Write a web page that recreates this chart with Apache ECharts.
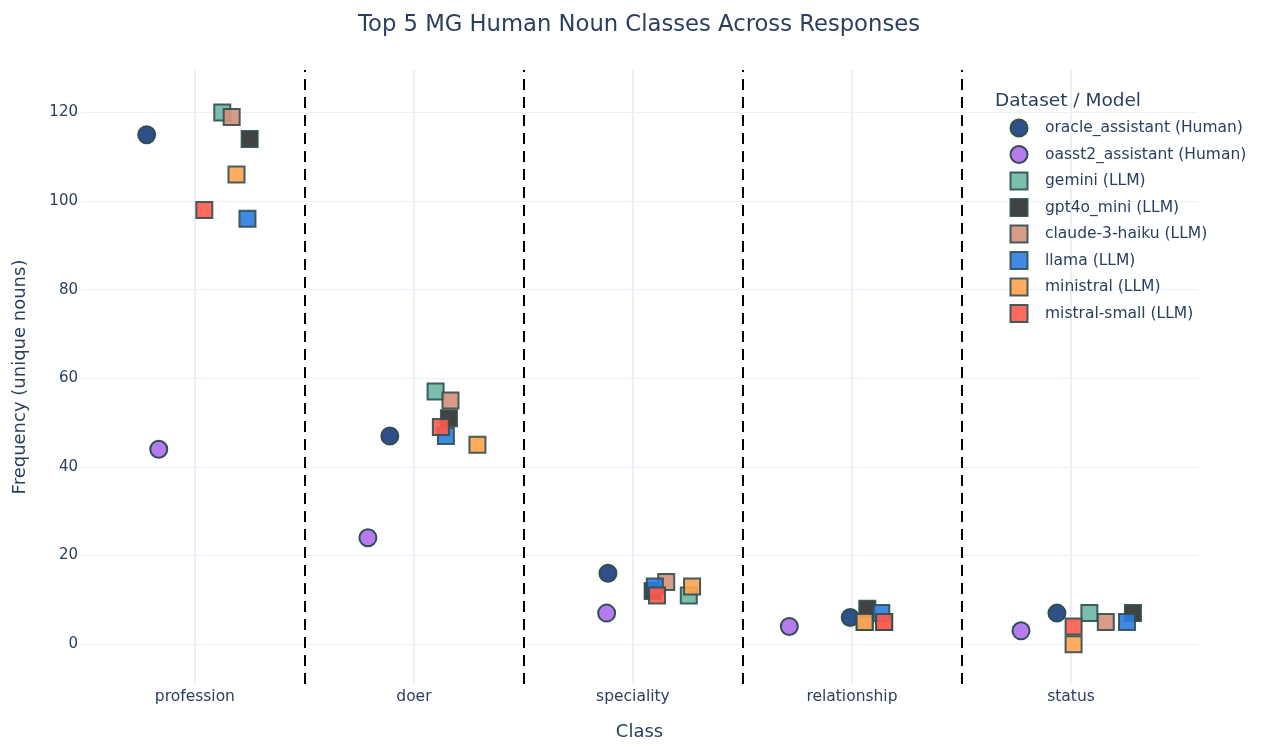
<!DOCTYPE html>
<html>
<head>
<meta charset="utf-8">
<script src="https://cdn.jsdelivr.net/npm/echarts@6/dist/echarts.min.js"></script>
<style>html,body{margin:0;padding:0;background:#fff}#c{width:1263px;height:744px}</style>
</head>
<body>
<div id="c"></div>
<script>
const categories = ['profession', 'doer', 'speciality', 'relationship', 'status'];
const yTicks = [0, 20, 40, 60, 80, 100, 120];

// values per series (in category order)
const oracleVals   = [115, 47, 16, 6, 7];
const oasst2Vals   = [44, 24, 7, 4, 3];
const geminiVals   = [120, 57, 11, 5, 7];
const gpt4oVals    = [114, 51, 12, 8, 7];
const claudeVals   = [119, 55, 14, 5, 5];
const llamaVals    = [96, 47, 13, 7, 5];
const ministralVals= [106, 45, 13, 5, 0];
const mistralVals  = [98, 49, 11, 5, 4];

// horizontal strip jitter (in category units)
const oracleJit    = [-0.22, -0.11, -0.114, -0.008, -0.064];
const oasst2Jit    = [-0.165, -0.21, -0.12, -0.286, -0.228];
const geminiJit    = [0.125, 0.099, 0.255, 0.058, 0.084];
const gpt4oJit     = [0.25, 0.16, 0.09, 0.07, 0.283];
const claudeJit    = [0.168, 0.167, 0.152, 0.147, 0.159];
const llamaJit     = [0.24, 0.146, 0.1, 0.134, 0.256];
const ministralJit = [0.19, 0.29, 0.27, 0.058, 0.012];
const mistralJit   = [0.043, 0.123, 0.11, 0.147, 0.012];

const seriesDefs = [
  {name: 'oracle_assistant (Human)', vals: oracleVals, jit: oracleJit, color: '#2f4f8a', symbol: 'circle'},
  {name: 'oasst2_assistant (Human)', vals: oasst2Vals, jit: oasst2Jit, color: '#b77bf0', symbol: 'circle'},
  {name: 'gemini (LLM)', vals: geminiVals, jit: geminiJit, color: '#6db7a4', symbol: 'rect'},
  {name: 'gpt4o_mini (LLM)', vals: gpt4oVals, jit: gpt4oJit, color: '#2e2e2e', symbol: 'rect'},
  {name: 'claude-3-haiku (LLM)', vals: claudeVals, jit: claudeJit, color: '#d4907a', symbol: 'rect'},
  {name: 'llama (LLM)', vals: llamaVals, jit: llamaJit, color: '#2b7de0', symbol: 'rect'},
  {name: 'ministral (LLM)', vals: ministralVals, jit: ministralJit, color: '#ffa24f', symbol: 'rect'},
  {name: 'mistral-small (LLM)', vals: mistralVals, jit: mistralJit, color: '#ff5a4e', symbol: 'rect'}
];

const separators = categories.slice(1).map((_, i) => i + 0.5);
const textColor = '#2a3f5f';
const gridColor = '#ebf0f8';
const FONT = 'DejaVu Sans';

const series = seriesDefs.map((s, si) => {
  const o = {
    name: s.name,
    type: 'scatter',
    symbol: s.symbol,
    symbolSize: s.symbol === 'circle' ? 17 : 16,
    data: categories.map((c, i) => [i + s.jit[i], s.vals[i]]),
    itemStyle: {
      color: s.color,
      borderColor: '#2f4f4f',
      borderWidth: 2,
      opacity: s.symbol === 'circle' ? 1 : 0.9
    },
    emphasis: {disabled: true},
    animation: false
  };
  if (si === 0) {
    o.markLine = {
      silent: true,
      symbol: ['none', 'none'],
      label: {show: false},
      animation: false,
      lineStyle: {color: '#000', width: 2, type: [11, 7]},
      data: separators.map(v => ({xAxis: v}))
    };
  }
  return o;
});

const chart = echarts.init(document.getElementById('c'), null, {renderer: 'canvas'});
chart.setOption({
  backgroundColor: '#fff',
  animation: false,
  title: [
    {
      text: 'Top 5 MG Human Noun Classes Across Responses',
      left: 353, top: 9,
      textStyle: {fontFamily: FONT, fontSize: 22.7, fontWeight: 'normal', color: textColor}
    },
    {
      text: 'Dataset / Model',
      left: 990, top: 87,
      textStyle: {fontFamily: FONT, fontSize: 18.5, fontWeight: 'normal', color: textColor}
    }
  ],
  legend: {
    orient: 'vertical',
    left: 1009.5, top: 118.5,
    padding: 0,
    itemWidth: 17, itemHeight: 17,
    itemGap: 7.5,
    textStyle: {fontFamily: FONT, fontSize: 15.5, lineHeight: 17, color: textColor, padding: [0, 0, 0, 12.5]},
    data: seriesDefs.map(s => ({name: s.name, icon: s.symbol})),
    selectedMode: false
  },
  grid: {left: 81, right: 65, top: 70, bottom: 60, containLabel: false, outerBoundsMode: 'none'},
  xAxis: {
    type: 'value',
    min: -0.52, max: 4.58,
    name: 'Class',
    nameLocation: 'middle',
    nameGap: 39,
    nameTextStyle: {fontFamily: FONT, fontSize: 18, color: textColor},
    axisLine: {show: false},
    axisTick: {show: false, customValues: categories.map((c, i) => i)},
    axisLabel: {
      customValues: categories.map((c, i) => i),
      formatter: v => categories[Math.round(v)] || '',
      fontFamily: FONT, fontSize: 15.5, color: textColor, margin: 5
    },
    splitLine: {show: true, lineStyle: {color: gridColor, width: 2}}
  },
  yAxis: {
    type: 'value',
    min: -9, max: 129.6,
    name: 'Frequency (unique nouns)',
    nameLocation: 'middle',
    nameGap: 52,
    nameTextStyle: {fontFamily: FONT, fontSize: 18, color: textColor},
    axisLine: {show: false},
    axisTick: {show: false, customValues: yTicks},
    axisLabel: {
      customValues: yTicks,
      fontFamily: FONT, fontSize: 15, color: textColor, margin: 3
    },
    splitLine: {show: true, lineStyle: {color: gridColor, width: 1}}
  },
  series: series
});
</script>
</body>
</html>
